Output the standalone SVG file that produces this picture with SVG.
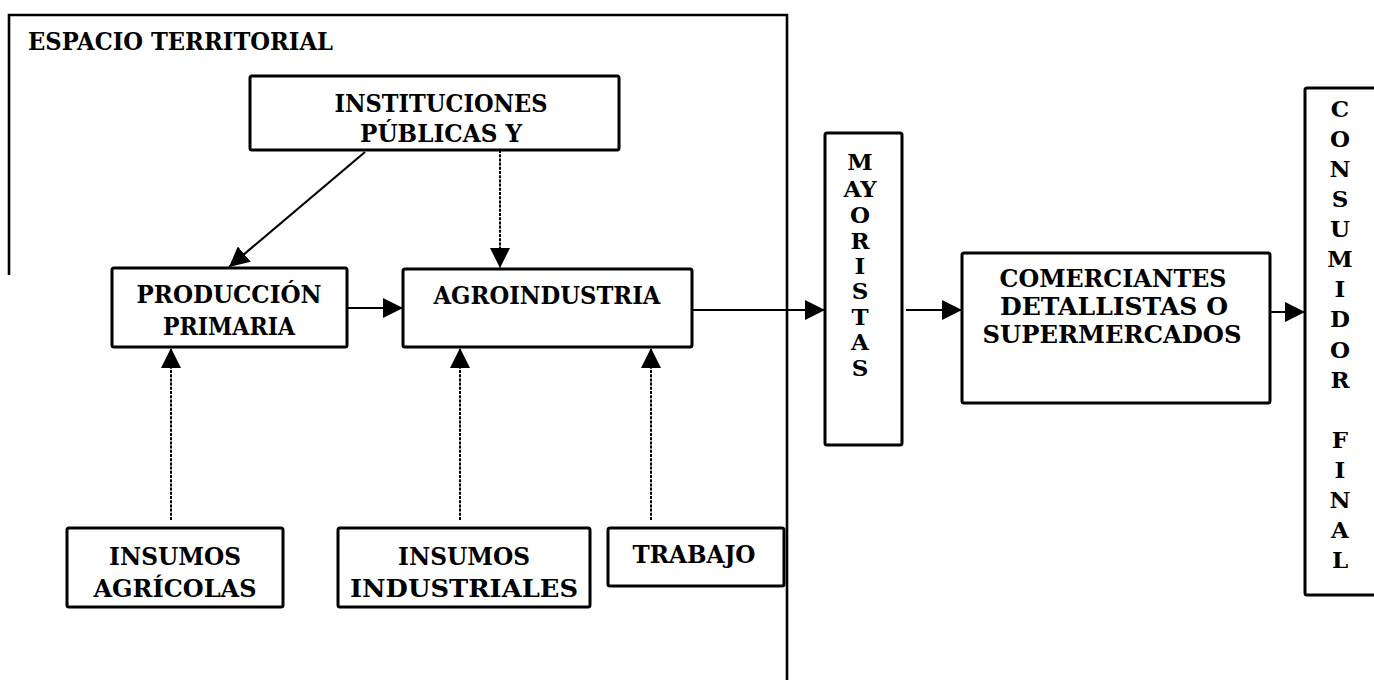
<svg xmlns="http://www.w3.org/2000/svg" width="1374" height="680" viewBox="0 0 1374 680">
<style>
.box{fill:#fff;stroke:#000;stroke-width:3}
.t{font-family:"DejaVu Serif","Liberation Serif",serif;font-weight:bold;font-size:25px;fill:#000;text-anchor:middle}
.v{font-family:"DejaVu Serif","Liberation Serif",serif;font-weight:bold;font-size:23px;fill:#000;text-anchor:middle}
.c{stroke:#000;stroke-width:2.2;fill:none}
.d{stroke:#000;stroke-width:2;fill:none;stroke-dasharray:3 1.2}
</style>
<defs>
<marker id="ah" markerUnits="userSpaceOnUse" markerWidth="20" markerHeight="20" refX="20" refY="10" orient="auto">
<path d="M0,0 L20,10 L0,20 z" fill="#000"/>
</marker>
</defs>
<rect width="1374" height="680" fill="#fff"/>
<g id="espacio-territorial">
<path d="M9,275 L9,15 L787,15 L787,680" fill="none" stroke="#000" stroke-width="2.6"/>
<text x="28" y="50" class="t" style="text-anchor:start" textLength="305" lengthAdjust="spacingAndGlyphs">ESPACIO TERRITORIAL</text>
</g>
<g id="instituciones">
<rect class="box" x="250" y="76" width="369" height="74" rx="2"/>
<text class="t" x="441" y="112" textLength="213" lengthAdjust="spacingAndGlyphs">INSTITUCIONES</text>
<text class="t" x="441" y="142" textLength="162" lengthAdjust="spacingAndGlyphs">PÚBLICAS Y</text>
</g>
<g id="produccion">
<rect class="box" x="112" y="268" width="235" height="79" rx="2"/>
<text class="t" x="229" y="303" textLength="185" lengthAdjust="spacingAndGlyphs">PRODUCCIÓN</text>
<text class="t" x="229" y="335" textLength="132" lengthAdjust="spacingAndGlyphs">PRIMARIA</text>
</g>
<g id="agroindustria">
<rect class="box" x="403" y="269" width="289" height="78" rx="2"/>
<text class="t" x="547" y="304" textLength="227" lengthAdjust="spacingAndGlyphs">AGROINDUSTRIA</text>
</g>
<g id="mayoristas">
<rect class="box" x="825" y="133" width="77" height="312" rx="2"/>
<text class="v" x="860" y="170">M</text>
<text class="v" x="860" y="197">AY</text>
<text class="v" x="860" y="223">O</text>
<text class="v" x="860" y="249">R</text>
<text class="v" x="860" y="274">I</text>
<text class="v" x="860" y="299">S</text>
<text class="v" x="860" y="325">T</text>
<text class="v" x="860" y="350">A</text>
<text class="v" x="860" y="376">S</text>
</g>
<g id="comerciantes">
<rect class="box" x="962" y="253" width="308" height="150" rx="2"/>
<text class="t" x="1113" y="287" textLength="227" lengthAdjust="spacingAndGlyphs">COMERCIANTES</text>
<text class="t" x="1114" y="315" textLength="228" lengthAdjust="spacingAndGlyphs">DETALLISTAS O</text>
<text class="t" x="1112" y="343" textLength="259" lengthAdjust="spacingAndGlyphs">SUPERMERCADOS</text>
</g>
<g id="consumidor-final">
<rect class="box" x="1305" y="88" width="90" height="507" rx="2"/>
<text class="v" x="1340" y="117">C</text>
<text class="v" x="1340" y="147">O</text>
<text class="v" x="1340" y="177">N</text>
<text class="v" x="1340" y="207">S</text>
<text class="v" x="1340" y="237">U</text>
<text class="v" x="1340" y="267">M</text>
<text class="v" x="1340" y="297">I</text>
<text class="v" x="1340" y="327">D</text>
<text class="v" x="1340" y="358">O</text>
<text class="v" x="1340" y="388">R</text>
<text class="v" x="1340" y="448">F</text>
<text class="v" x="1340" y="478">I</text>
<text class="v" x="1340" y="508">N</text>
<text class="v" x="1340" y="538">A</text>
<text class="v" x="1340" y="568">L</text>
</g>
<g id="insumos-agricolas">
<rect class="box" x="67" y="528" width="216" height="79" rx="2"/>
<text class="t" x="175" y="565" textLength="132" lengthAdjust="spacingAndGlyphs">INSUMOS</text>
<text class="t" x="175" y="597" textLength="163" lengthAdjust="spacingAndGlyphs">AGRÍCOLAS</text>
</g>
<g id="insumos-industriales">
<rect class="box" x="338" y="528" width="252" height="79" rx="2"/>
<text class="t" x="464" y="565" textLength="132" lengthAdjust="spacingAndGlyphs">INSUMOS</text>
<text class="t" x="464" y="597" textLength="228" lengthAdjust="spacingAndGlyphs">INDUSTRIALES</text>
</g>
<g id="trabajo">
<rect class="box" x="608" y="528" width="176" height="58" rx="2"/>
<text class="t" x="694" y="563" textLength="123" lengthAdjust="spacingAndGlyphs">TRABAJO</text>
</g>
<g id="connectors">
<line class="c" x1="365" y1="152" x2="229" y2="267" marker-end="url(#ah)"/>
<line class="d" x1="500" y1="150" x2="500" y2="268" marker-end="url(#ah)"/>
<line class="c" x1="347" y1="308" x2="403" y2="308" marker-end="url(#ah)"/>
<line class="c" x1="692" y1="310" x2="825" y2="310" marker-end="url(#ah)"/>
<line class="c" x1="906" y1="310" x2="962" y2="310" marker-end="url(#ah)"/>
<line class="c" x1="1270" y1="312" x2="1305" y2="312" marker-end="url(#ah)"/>
<line class="d" x1="171" y1="520" x2="171" y2="348" marker-end="url(#ah)"/>
<line class="d" x1="460" y1="520" x2="460" y2="348" marker-end="url(#ah)"/>
<line class="d" x1="651" y1="520" x2="651" y2="348" marker-end="url(#ah)"/>
</g>
</svg>
